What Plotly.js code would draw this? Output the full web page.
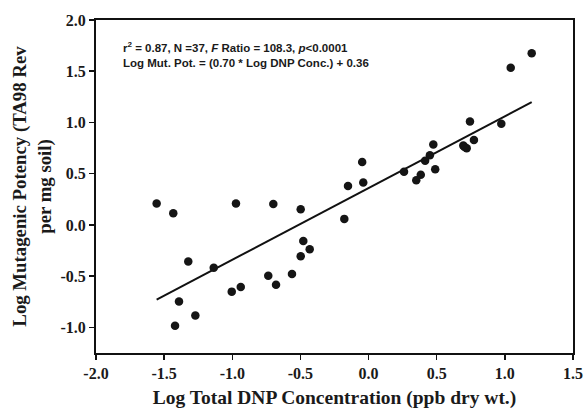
<!DOCTYPE html>
<html>
<head>
<meta charset="utf-8">
<script src="https://cdn.plot.ly/plotly-3.0.1.min.js"></script>
<style>html,body{margin:0;padding:0;background:#fff;}#chart{width:586px;height:410px;}</style>
</head>
<body>
<div id="chart"></div>
<script>
// Log Total DNP Concentration (x) vs Log Mutagenic Potency (y)
var logDNP = [-1.555, -1.433, -0.973, -0.699, -0.498, -0.479, -0.432, -0.498, -1.323, -1.136,
              -0.736, -0.562, -0.679, -1.004, -0.938, -1.391, -1.271, -1.420,
              1.197, 1.043, 0.744, 0.974, 0.475, 0.773, 0.695, 0.720, 0.450, 0.415,
              0.489, 0.260, 0.383, 0.350, -0.047, -0.039, -0.151, -0.178, 0.705];
var logMut = [0.210, 0.114, 0.210, 0.205, 0.153, -0.156, -0.237, -0.305, -0.358, -0.417,
              -0.495, -0.478, -0.585, -0.651, -0.605, -0.748, -0.885, -0.985,
              1.675, 1.535, 1.010, 0.988, 0.785, 0.829, 0.774, 0.748, 0.681, 0.626,
              0.544, 0.520, 0.490, 0.436, 0.613, 0.413, 0.380, 0.059, 0.760];
var slope = 0.70;
var intercept = 0.36;
var xTickVals = [-2.0, -1.5, -1.0, -0.5, 0.0, 0.5, 1.0, 1.5];
var xTickText = ["-2.0", "-1.5", "-1.0", "-0.5", "0.0", "0.5", "1.0", "1.5"];
var yTickVals = [-1.0, -0.5, 0.0, 0.5, 1.0, 1.5, 2.0];
var yTickText = ["-1.0", "-0.5", "0.0", "0.5", "1.0", "1.5", "2.0"];

var xMin = Math.min.apply(null, logDNP);
var xMax = Math.max.apply(null, logDNP);
var fitX = [xMin, xMax];
var fitY = fitX.map(function (v) { return slope * v + intercept; });

var serif = "Liberation Serif, Times New Roman, serif";
var sans = "Liberation Sans, Arial, sans-serif";

var traces = [
  {
    x: fitX, y: fitY, mode: "lines", type: "scatter",
    line: {color: "#111", width: 2}, hoverinfo: "skip", showlegend: false
  },
  {
    x: logDNP, y: logMut, mode: "markers", type: "scatter",
    marker: {color: "#151515", size: 8.5}, showlegend: false
  }
];

var axisCommon = {
  showgrid: false, zeroline: false, showline: true, linecolor: "#111", linewidth: 2,
  mirror: true, ticks: "outside", ticklen: 5, tickwidth: 1.5, tickcolor: "#111",
  tickfont: {family: serif, size: 16, color: "#1a1a1a", weight: "bold"}
};

var layout = {
  width: 586, height: 410,
  margin: {l: 96, r: 13, t: 20, b: 57},
  paper_bgcolor: "#fff", plot_bgcolor: "#fff",
  xaxis: Object.assign({}, axisCommon, {
    range: [-2.0, 1.5], tickmode: "array", tickvals: xTickVals, ticktext: xTickText,
    title: {text: "<b>Log Total DNP Concentration (ppb dry wt.)</b>",
            font: {family: serif, size: 19.5, color: "#1a1a1a"}, standoff: 9}
  }),
  yaxis: Object.assign({}, axisCommon, {
    range: [-1.25, 2.0], tickmode: "array", tickvals: yTickVals, ticktext: yTickText,
    title: {text: "<b>Log Mutagenic Potency (TA98 Rev<br>per mg soil)</b>",
            font: {family: serif, size: 18.8, color: "#1a1a1a"}, standoff: 4}
  }),
  annotations: [
    {xref: "paper", yref: "paper", x: 0.052, y: 0.92, xanchor: "left", yanchor: "middle",
     showarrow: false, align: "left",
     text: "<b>r<sup>2</sup> = 0.87, N =37, <i>F</i> Ratio = 108.3, <i>p</i>&lt;0.0001</b>",
     font: {family: sans, size: 11.5, color: "#1a1a1a"}},
    {xref: "paper", yref: "paper", x: 0.052, y: 0.872, xanchor: "left", yanchor: "middle",
     showarrow: false, align: "left",
     text: "<b>Log Mut. Pot. = (0.70 * Log DNP Conc.) + 0.36</b>",
     font: {family: sans, size: 11.5, color: "#1a1a1a"}}
  ]
};

Plotly.newPlot("chart", traces, layout, {staticPlot: true, displayModeBar: false});
</script>
</body>
</html>
